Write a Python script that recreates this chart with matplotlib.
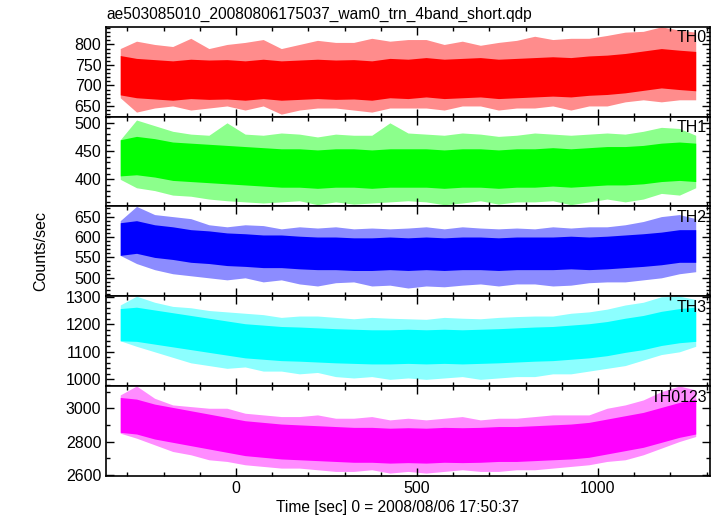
import numpy as np
import matplotlib
matplotlib.use('Agg')
import matplotlib.pyplot as plt
from matplotlib.ticker import MultipleLocator

plt.rcParams['font.family'] = ['Liberation Sans', 'DejaVu Sans']

title = 'ae503085010_20080806175037_wam0_trn_4band_short.qdp'
xlabel = 'Time [sec] 0 = 2008/08/06 17:50:37'
ylabel = 'Counts/sec'

# time samples (sec) for the band outline
t = [-320, -275, -225, -175, -125, -75, -25, 25, 75, 125, 175, 225, 275, 325, 375, 425,
     475, 525, 575, 625, 675, 725, 775, 825, 875, 925, 975, 1025, 1075, 1125, 1175, 1225, 1270]

bands = ['TH0', 'TH1', 'TH2', 'TH3', 'TH0123']
colors = ['#ff0000', '#00ff00', '#0000ff', '#00ffff', '#ff00ff']

# typical level, upper spikes, lower spikes, typical scatter
th0_mean = [725, 718, 715, 712, 716, 714, 715, 712, 716, 712, 714, 716, 714, 715, 712, 718, 716,
            720, 716, 718, 720, 716, 718, 720, 722, 720, 724, 726, 730, 736, 742, 738, 735]
th0_hi = [790, 808, 800, 795, 815, 790, 800, 805, 812, 790, 800, 810, 805, 805, 815, 808, 812,
          812, 800, 808, 798, 805, 810, 820, 812, 815, 815, 822, 830, 832, 843, 835, 830]
th0_lo = [670, 635, 645, 650, 640, 645, 650, 640, 650, 630, 640, 645, 645, 640, 635, 645, 645,
          645, 640, 650, 650, 640, 645, 645, 650, 640, 650, 650, 660, 665, 660, 665, 665]

th1_mean = [440, 442, 438, 432, 430, 428, 426, 424, 422, 420, 420, 418, 420, 420, 418, 420, 420,
            420, 418, 420, 420, 418, 420, 420, 422, 420, 422, 424, 424, 426, 430, 432, 430]
th1_hi = [470, 505, 495, 485, 480, 478, 500, 480, 478, 482, 480, 475, 480, 478, 478, 500, 482,
          480, 478, 482, 480, 476, 478, 482, 480, 478, 480, 482, 480, 485, 492, 490, 478]
th1_lo = [400, 385, 380, 372, 370, 365, 362, 360, 358, 360, 362, 355, 360, 356, 358, 360, 362,
          360, 355, 358, 362, 356, 360, 360, 362, 355, 360, 365, 360, 365, 375, 372, 385]

th2_mean = [595, 600, 590, 585, 578, 575, 570, 568, 565, 565, 562, 560, 560, 558, 558, 560, 558,
            560, 558, 560, 560, 558, 560, 560, 560, 562, 560, 562, 565, 568, 572, 578, 578]
th2_hi = [640, 675, 655, 650, 645, 630, 625, 630, 628, 620, 625, 622, 625, 620, 622, 620, 622,
          625, 620, 625, 622, 620, 622, 620, 625, 622, 625, 625, 630, 638, 650, 655, 645]
th2_lo = [555, 535, 520, 510, 505, 500, 495, 500, 490, 495, 485, 480, 488, 490, 480, 482, 475,
          480, 478, 482, 485, 480, 485, 485, 480, 482, 488, 490, 490, 495, 500, 510, 515]

th3_mean = [1195, 1200, 1190, 1180, 1170, 1160, 1150, 1140, 1135, 1130, 1128, 1125, 1122, 1120, 1118, 1118, 1120,
            1118, 1120, 1118, 1120, 1122, 1125, 1128, 1130, 1135, 1140, 1148, 1160, 1170, 1185, 1195, 1200]
th3_hi = [1270, 1302, 1280, 1265, 1260, 1250, 1245, 1240, 1235, 1225, 1230, 1230, 1225, 1220, 1225, 1222, 1220,
          1218, 1225, 1222, 1220, 1225, 1228, 1230, 1230, 1240, 1245, 1255, 1270, 1280, 1300, 1302, 1290]
th3_lo = [1140, 1120, 1100, 1080, 1060, 1050, 1040, 1045, 1030, 1030, 1020, 1025, 1010, 1005, 1010, 1000, 1005,
          1000, 1005, 1010, 1000, 1005, 1010, 1010, 1020, 1020, 1030, 1040, 1050, 1070, 1090, 1100, 1120]

th0123_mean = [2960, 2950, 2920, 2900, 2880, 2860, 2840, 2820, 2810, 2800, 2795, 2790, 2785, 2780, 2780, 2775, 2778,
               2775, 2780, 2778, 2780, 2785, 2785, 2790, 2795, 2800, 2810, 2830, 2850, 2870, 2900, 2930, 2950]
th0123_hi = [3080, 3134, 3060, 3020, 3010, 3000, 3000, 2970, 2960, 2950, 2950, 2960, 2940, 2940, 2950, 2930, 2940,
             2930, 2940, 2950, 2930, 2940, 2940, 2950, 2960, 2960, 2960, 3000, 3020, 3050, 3100, 3134, 3110]
th0123_lo = [2850, 2820, 2780, 2740, 2720, 2690, 2680, 2660, 2650, 2640, 2640, 2630, 2620, 2620, 2630, 2610, 2620,
             2610, 2620, 2630, 2620, 2620, 2630, 2630, 2640, 2650, 2660, 2680, 2690, 2720, 2760, 2800, 2830]

scatter = [48, 34, 40, 62, 105]

means = [th0_mean, th1_mean, th2_mean, th3_mean, th0123_mean]
highs = [th0_hi, th1_hi, th2_hi, th3_hi, th0123_hi]
lows = [th0_lo, th1_lo, th2_lo, th3_lo, th0123_lo]

ylims = [(624, 843), (352, 511), (455, 675), (976, 1302), (2594, 3134)]
majors = [50, 50, 50, 100, 200]
minors = [10, 10, 10, 20, 100]

fig = plt.figure(figsize=(7.17, 5.16), dpi=100)
gs = fig.add_gridspec(5, 1, left=0.148, right=0.990, top=0.948, bottom=0.078, hspace=0)
axes = [fig.add_subplot(gs[i]) for i in range(5)]

tt = np.array(t)
for i, ax in enumerate(axes):
    m = np.array(means[i])
    ax.fill_between(tt, lows[i], highs[i], color=colors[i], alpha=0.45, lw=0)
    ax.fill_between(tt, np.maximum(m - scatter[i], lows[i]), np.minimum(m + scatter[i], highs[i]),
                    color=colors[i], lw=0)
    ax.set_xlim(-359, 1309)
    ax.set_ylim(ylims[i])
    ax.yaxis.set_major_locator(MultipleLocator(majors[i]))
    ax.yaxis.set_minor_locator(MultipleLocator(minors[i]))
    ax.xaxis.set_major_locator(MultipleLocator(500))
    ax.xaxis.set_minor_locator(MultipleLocator(100))
    ax.tick_params(which='both', direction='in', top=True, right=True, width=1.0, labelsize=11.5)
    ax.tick_params(which='major', length=6)
    ax.tick_params(which='minor', length=3)
    for s in ax.spines.values():
        s.set_linewidth(1.2)
    ax.text(0.995, 0.96, bands[i], transform=ax.transAxes, ha='right', va='top', fontsize=11.5)
    if i < 4:
        ax.tick_params(labelbottom=False)

fig.text(0.148, 0.972, title, ha='left', va='center', fontsize=11.2)
fig.text(0.057, 0.513, ylabel, ha='center', va='center', rotation=90, fontsize=11.5)
fig.text(0.554, 0.017, xlabel, ha='center', va='center', fontsize=11.2)

fig.savefig('out.png', dpi=100)
